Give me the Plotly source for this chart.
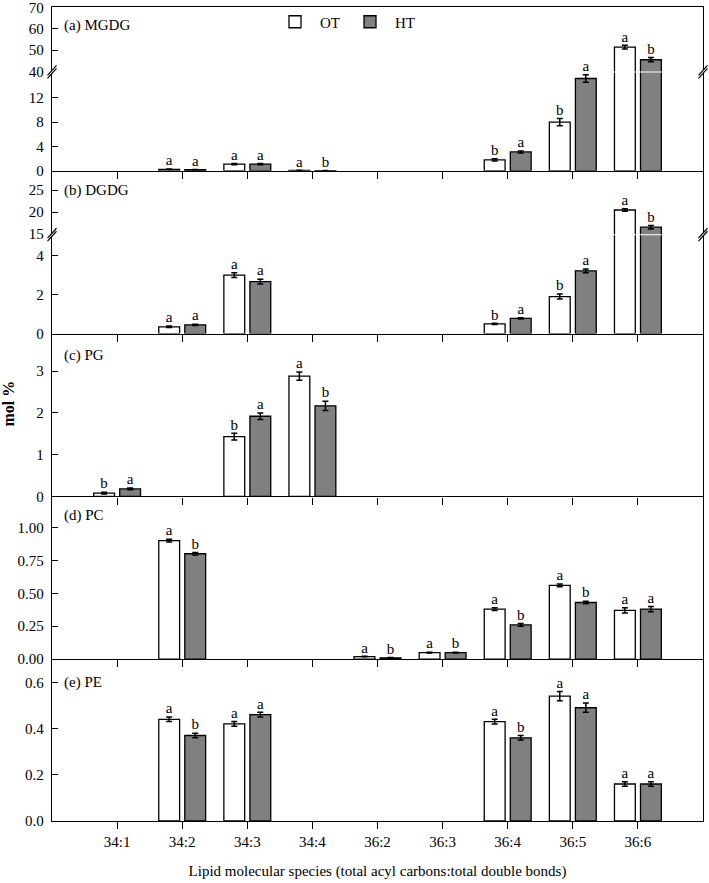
import plotly.graph_objects as go

# ---------------- data ----------------
categories = ["34:1", "34:2", "34:3", "34:4", "36:2", "36:3", "36:4", "36:5", "36:6"]

mgdg_ot = [None, 0.25, 1.1, 0.05, None, None, 1.8, 8.0, 51.4]
mgdg_ot_err = [0, 0.03, 0.1, 0.02, 0, 0, 0.2, 0.6, 0.9]
mgdg_ht = [None, 0.2, 1.1, 0.03, None, None, 3.1, 15.2, 45.5]
mgdg_ht_err = [0, 0.03, 0.1, 0.02, 0, 0, 0.15, 0.6, 1.0]
mgdg_ot_sig = ["", "a", "a", "a", "", "", "b", "b", "a"]
mgdg_ht_sig = ["", "a", "a", "b", "", "", "a", "a", "b"]

dgdg_ot = [None, 0.35, 3.0, None, None, None, 0.5, 1.9, 20.5]
dgdg_ot_err = [0, 0.04, 0.12, 0, 0, 0, 0.03, 0.13, 0.3]
dgdg_ht = [None, 0.45, 2.67, None, None, None, 0.78, 3.22, 16.6]
dgdg_ht_err = [0, 0.03, 0.12, 0, 0, 0, 0.03, 0.1, 0.4]
dgdg_ot_sig = ["", "a", "a", "", "", "", "b", "b", "a"]
dgdg_ht_sig = ["", "a", "a", "", "", "", "a", "a", "b"]

pg_ot = [0.08, None, 1.43, 2.88, None, None, None, None, None]
pg_ot_err = [0.02, 0, 0.08, 0.1, 0, 0, 0, 0, 0]
pg_ht = [0.18, None, 1.92, 2.17, None, None, None, None, None]
pg_ht_err = [0.02, 0, 0.08, 0.11, 0, 0, 0, 0, 0]
pg_ot_sig = ["b", "", "b", "a", "", "", "", "", ""]
pg_ht_sig = ["a", "", "a", "b", "", "", "", "", ""]

pc_ot = [None, 0.90, None, None, 0.02, 0.05, 0.38, 0.56, 0.37]
pc_ot_err = [0, 0.01, 0, 0, 0.002, 0.003, 0.01, 0.01, 0.02]
pc_ht = [None, 0.80, None, None, 0.01, 0.05, 0.26, 0.43, 0.38]
pc_ht_err = [0, 0.01, 0, 0, 0.002, 0.003, 0.01, 0.01, 0.02]
pc_ot_sig = ["", "a", "", "", "a", "a", "a", "a", "a"]
pc_ht_sig = ["", "b", "", "", "b", "b", "b", "b", "a"]

pe_ot = [None, 0.44, 0.42, None, None, None, 0.43, 0.54, 0.16]
pe_ot_err = [0, 0.01, 0.01, 0, 0, 0, 0.01, 0.02, 0.01]
pe_ht = [None, 0.37, 0.46, None, None, None, 0.36, 0.49, 0.16]
pe_ht_err = [0, 0.01, 0.01, 0, 0, 0, 0.01, 0.02, 0.01]
pe_ot_sig = ["", "a", "a", "", "", "", "a", "a", "a"]
pe_ht_sig = ["", "b", "a", "", "", "", "b", "a", "a"]

panel_labels = ["(a) MGDG", "(b) DGDG", "(c) PG", "(d) PC", "(e) PE"]
series_names = ["OT", "HT"]
x_title = "Lipid molecular species (total acyl carbons:total double bonds)"
y_title = "mol %"

# y-axis tick values per axis segment (top to bottom)
mgdg_upper_ticks = [40, 50, 60, 70]
mgdg_lower_ticks = [0, 4, 8, 12]
dgdg_upper_ticks = [15, 20, 25]
dgdg_lower_ticks = [0, 2, 4]
pg_ticks = [0, 1, 2, 3]
pc_ticks = [0, 0.25, 0.5, 0.75, 1.0]
pe_ticks = [0, 0.2, 0.4, 0.6]

# ---------------- layout geometry ----------------
FONT = "Liberation Serif"
W, H = 709, 883
L, R, T, B = 52, 6, 6, 62
PW, PH = W - L - R, H - T - B


def fy(py):
    return (H - B - py) / PH


def fx(px):
    return (px - L) / PW


OT_FILL, HT_FILL = "white", "#808080"

panels = [
    (mgdg_ot, mgdg_ot_err, mgdg_ht, mgdg_ht_err, mgdg_ot_sig, mgdg_ht_sig),
    (dgdg_ot, dgdg_ot_err, dgdg_ht, dgdg_ht_err, dgdg_ot_sig, dgdg_ht_sig),
    (pg_ot, pg_ot_err, pg_ht, pg_ht_err, pg_ot_sig, pg_ht_sig),
    (pc_ot, pc_ot_err, pc_ht, pc_ht_err, pc_ot_sig, pc_ht_sig),
    (pe_ot, pe_ot_err, pe_ht, pe_ht_err, pe_ot_sig, pe_ht_sig),
]
segments = [
    # panel, top px, bottom px, y range, tick values, format, x-axis mode
    (0, 6, 70.5, [40, 70.3], mgdg_upper_ticks, "d", "top"),
    (0, 71.5, 170, [0, 16.2], mgdg_lower_ticks, "d", "ticks"),
    (1, 170, 233.5, [15, 29.4], dgdg_upper_ticks, "d", "none"),
    (1, 234.5, 333, [0, 5.05], dgdg_lower_ticks, "d", "ticks"),
    (2, 333, 496, [0, 3.9], pg_ticks, "d", "ticks"),
    (3, 496, 659, [0, 1.235], pc_ticks, ".2f", "ticks"),
    (4, 659, 821, [0, 0.7], pe_ticks, ".1f", "labels"),
]


def fmt_tick(v, fmt):
    return str(int(v)) if fmt == "d" else format(v, fmt)


fig = go.Figure()
layout = {}
annotations = []
for i, (p, top, bot, yr, tv, fmt, xmode) in enumerate(segments):
    n = i + 1
    xa = "x" if n == 1 else f"x{n}"
    ya = "y" if n == 1 else f"y{n}"
    ot, ot_e, ht, ht_e, ot_s, ht_s = panels[p]
    for name, vals, errs, fill in [
        (series_names[0], ot, ot_e, OT_FILL),
        (series_names[1], ht, ht_e, HT_FILL),
    ]:
        fig.add_trace(go.Bar(
            x=categories, y=vals, name=name, xaxis=xa, yaxis=ya,
            offsetgroup=name, legendgroup=name,
            showlegend=(p == 0 and xmode == "top"),
            marker=dict(color=fill, line=dict(color="black", width=1.3)),
            error_y=dict(type="data", array=errs, visible=True,
                         color="black", thickness=1.5, width=3),
        ))
    # significance letters
    for name, vals, errs, sig in [
        (series_names[0], ot, ot_e, ot_s),
        (series_names[1], ht, ht_e, ht_s),
    ]:
        xs, ys, ts = [], [], []
        for c, v, e, s in zip(categories, vals, errs, sig):
            if v is None or not s:
                continue
            tp = v + (e or 0)
            if tp < yr[0] or tp > yr[1]:
                continue
            xs.append(c)
            ys.append(tp)
            ts.append(s)
        fig.add_trace(go.Scatter(
            x=xs, y=ys, text=ts, mode="text", textposition="top center",
            textfont=dict(family=FONT, size=15, color="black"),
            xaxis=xa, yaxis=ya, showlegend=False, offsetgroup=name,
            legendgroup=name, cliponaxis=False, hoverinfo="skip",
        ))

    xkey = "xaxis" if n == 1 else f"xaxis{n}"
    ykey = "yaxis" if n == 1 else f"yaxis{n}"
    xd = dict(domain=[0, 1], anchor=ya, type="category", range=[-1, 9],
              showgrid=False, zeroline=False, showticklabels=False,
              linecolor="black", linewidth=1.3,
              tickfont=dict(family=FONT, size=15, color="black"))
    if xmode == "top":
        xd.update(showline=True, side="top", ticks="")
    elif xmode == "none":
        xd.update(showline=False, ticks="")
    else:
        xd.update(showline=True, ticks="outside", ticklen=7, tickwidth=1.3,
                  tickcolor="black")
        if xmode == "labels":
            xd.update(showticklabels=True,
                      title=dict(text=x_title, standoff=16,
                                 font=dict(family=FONT, size=15, color="black")))
    layout[xkey] = xd

    d0, d1 = fy(bot), fy(top)
    layout[ykey] = dict(
        domain=[d0, d1], anchor=xa, range=yr,
        tickmode="array", tickvals=tv,
        ticktext=[fmt_tick(v, fmt) for v in tv],
        showgrid=False, zeroline=False, showline=True,
        mirror=True, linecolor="black", linewidth=1.3, ticks="inside",
        ticklen=6, tickwidth=1.3, tickcolor="black", ticklabelstandoff=4,
        ticklabeloverflow="allow", automargin=False,
        tickfont=dict(family=FONT, size=15, color="black"),
    )

# panel labels
label_y = [25, 190, 355, 515, 682]
for txt, py in zip(panel_labels, label_y):
    annotations.append(dict(
        text=txt, xref="paper", yref="paper", x=fx(62), y=fy(py),
        xanchor="left", yanchor="middle", showarrow=False,
        font=dict(family=FONT, size=15, color="black")))
annotations.append(dict(
    text="<b>" + y_title + "</b>", xref="paper", yref="paper",
    x=fx(9), y=fy(403), textangle=-90, xanchor="center", yanchor="middle",
    showarrow=False, font=dict(family=FONT, size=16, color="black")))

# axis-break marks
shapes = []
for pyb in [71, 234]:
    for pxb in [L, W - R]:
        a = (pxb - 4.5, pyb + 6.5)
        b_ = (pxb + 4.5, pyb - 3.5)
        c = (pxb + 4.5, pyb - 6.5)
        d = (pxb - 4.5, pyb + 3.5)
        path = "M{},{} L{},{} L{},{} L{},{} Z".format(
            fx(a[0]), fy(a[1]), fx(b_[0]), fy(b_[1]),
            fx(c[0]), fy(c[1]), fx(d[0]), fy(d[1]))
        shapes.append(dict(type="path", path=path, xref="paper", yref="paper",
                           fillcolor="white", line=dict(width=0)))
        for p1, p2 in [(a, b_), (d, c)]:
            shapes.append(dict(type="line", xref="paper", yref="paper",
                               x0=fx(p1[0]), y0=fy(p1[1]),
                               x1=fx(p2[0]), y1=fy(p2[1]),
                               line=dict(color="black", width=1.2)))

fig.update_layout(
    width=W, height=H,
    margin=dict(l=L, r=R, t=T, b=B),
    paper_bgcolor="white", plot_bgcolor="white",
    barmode="group", bargap=0.2, bargroupgap=0.2,
    scattermode="group", scattergap=0.2,
    font=dict(family=FONT, size=15, color="black"),
    legend=dict(orientation="h", x=fx(345), y=fy(22), xanchor="center",
                yanchor="middle", bgcolor="rgba(0,0,0,0)",
                font=dict(family=FONT, size=15, color="black"),
                itemwidth=40, traceorder="normal"),
    annotations=annotations, shapes=shapes,
    **layout,
)

fig.write_html("out.html", config={"displayModeBar": False},
               post_script="document.body.style.margin='0px';")
